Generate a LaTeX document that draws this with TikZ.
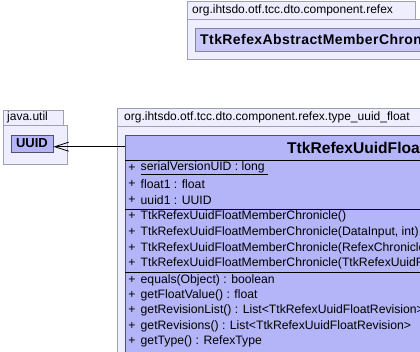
\documentclass[tikz,border=0pt]{standalone}
\usepackage{fontspec}
\setmainfont{Liberation Sans}
\usetikzlibrary{arrows.meta}
\definecolor{pkgfill}{HTML}{EEEEFF}
\definecolor{pkgline}{HTML}{A0A0B4}
\definecolor{clsfill}{HTML}{B4B4F8}
\definecolor{clsfilllight}{HTML}{C8C8FA}
\definecolor{clsline}{HTML}{505070}
\begin{document}
\begin{tikzpicture}[x=1pt,y=1pt,
  pkgbox/.style={fill=pkgfill,draw=pkgline,line width=0.8pt},
  clsbox/.style={fill=clsfill,draw=clsline,line width=0.8pt},
  pkglabel/.style={anchor=west,inner sep=0pt,font=\fontsize{12}{14}\selectfont},
  member/.style={anchor=west,inner sep=0pt,font=\fontsize{12.2}{14}\selectfont},
  plus/.style={anchor=center,inner sep=0pt,font=\fontsize{12.2}{14}\selectfont},
  sepline/.style={draw=black,line width=0.8pt},
  assoc/.style={draw=black,line width=0.8pt,-{Straight Barb[length=14pt,width=9pt]}}]
\useasboundingbox (0,0) rectangle (420,-351);
\clip (0,0) rectangle (420,-351);
\fill[white] (0,0) rectangle (420,-351);

% package org.ihtsdo.otf.tcc.dto.component.refex
\draw[pkgbox] (187,-1) rectangle (415,-19);
\draw[pkgbox] (187,-19) rectangle (440,-59);
\node[pkglabel] (pkgrefex) at (192,-10) {org.ihtsdo.otf.tcc.dto.component.refex};
\draw[fill=clsfilllight,draw=clsline!70,line width=0.8pt] (195,-28) rectangle (460,-51);
\node[anchor=west,inner sep=0pt,
      font=\fontsize{14}{16}\bfseries\selectfont\addfontfeature{LetterSpace=3}]
      (abstract) at (200,-39.5) {TtkRefexAbstractMemberChronicle};

% package java.util
\draw[pkgbox] (3,-110) rectangle (63,-125);
\draw[pkgbox] (3,-125) rectangle (67,-164);
\node[pkglabel] (pkgutil) at (7,-117.5) {java.util};
\node[clsbox,minimum width=42pt,minimum height=17pt,inner sep=0pt,
      font=\fontsize{13}{15}\bfseries\selectfont] (uuid) at (32,-143.5) {UUID};

% package org.ihtsdo.otf.tcc.dto.component.refex.type_uuid_float
\draw[pkgbox] (117,-108) rectangle (440,-126);
\draw[pkgbox] (117,-126) rectangle (440,-370);
\node[pkglabel] (pkgfloat) at (124,-117) {org.ihtsdo.otf.tcc.dto.component.refex.type\_uuid\_float};

% class TtkRefexUuidFloatMemberChronicle
\draw[clsbox] (125,-135) rectangle (720,-370);
\node[anchor=west,inner sep=0pt,font=\fontsize{15.6}{17}\bfseries\selectfont] (title) at (287,-147.5) {TtkRefexUuidFloatMemberChronicle};
\draw[sepline] (125,-160) -- (720,-160);
\draw[sepline] (125,-209) -- (720,-209);
\draw[sepline] (125,-272) -- (720,-272);

% visibility markers
\foreach \y/\name in {-168/a1, -184/a2, -200/a3, -216/c1, -232/c2, -248/c3, -263/c4,
                      -280/m1, -295/m2, -310/m3, -326/m4, -341/m5}
  \node[plus] (p\name) at (132,\y) {+};

% attributes
\node[member] (a1) at (140.5,-168) {\underline{serialVersionUID : long\ }};
\node[member] (a2) at (140.5,-184) {float1 : float};
\node[member] (a3) at (140.5,-200) {uuid1 : UUID};

% constructors
\node[member] (c1) at (140.5,-216) {TtkRefexUuidFloatMemberChronicle()};
\node[member] (c2) at (140.5,-232) {TtkRefexUuidFloatMemberChronicle(DataInput, int)};
\node[member] (c3) at (140.5,-248) {TtkRefexUuidFloatMemberChronicle(RefexChronicleBI, Long)};
\node[member] (c4) at (140.5,-263) {TtkRefexUuidFloatMemberChronicle(TtkRefexUuidFloatMemberChronicle)};

% methods
\node[member] (m1) at (140.5,-280) {equals(Object) : boolean};
\node[member] (m2) at (140.5,-295) {getFloatValue() : float};
\node[member] (m3) at (140.5,-310) {getRevisionList() : List<TtkRefexUuidFloatRevision>};
\node[member] (m4) at (140.5,-326) {getRevisions() : List<TtkRefexUuidFloatRevision>};
\node[member] (m5) at (140.5,-341) {getType() : RefexType};

% association to UUID
\coordinate (clsleft) at (125,-146.7);
\draw[assoc] (clsleft) -- (uuid.east |- clsleft);
\end{tikzpicture}
\end{document}
